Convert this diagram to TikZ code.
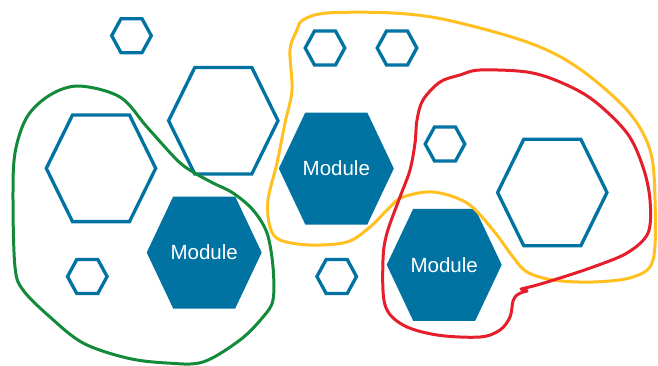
\documentclass[tikz,border=0pt]{standalone}
\usepackage{fontspec}
\setmainfont{Liberation Sans}
\definecolor{hexblue}{RGB}{1,115,162}
\definecolor{cgreen}{RGB}{18,138,58}
\definecolor{cyellow}{RGB}{255,192,32}
\definecolor{cred}{RGB}{228,30,43}
\begin{document}
\begin{tikzpicture}[x=1pt,y=-1pt,
  hexline/.style={draw=hexblue,line width=3.3pt,line join=miter},
  blob/.style={line width=3pt,line join=round,line cap=round},
  modtext/.style={text=white,font=\fontsize{20.5}{22}\selectfont,inner sep=0pt},
  hexL/.pic={\draw[hexline] (-54.7,0)--(-28.5,-53.3)--(28.5,-53.3)--(54.7,0)--(28.5,53.3)--(-28.5,53.3)--cycle;},
  hexS/.pic={\draw[hexline] (-19.8,0)--(-10.5,-17)--(10.5,-17)--(19.8,0)--(10.5,17)--(-10.5,17)--cycle;},
  hexM/.pic={\fill[hexblue] (-57.5,0)--(-31,-56)--(31,-56)--(57.5,0)--(31,56)--(-31,56)--cycle;}
]
\useasboundingbox (0,0) rectangle (658,365);
% small hexagons
\pic at (131.5,35.7) {hexS};
\pic at (325,48) {hexS};
\pic at (397,48) {hexS};
\pic at (445,144) {hexS};
\pic at (87.3,276.5) {hexS};
\pic at (336.7,276.5) {hexS};
% large outline hexagons
\pic at (223.3,120.7) {hexL};
\pic at (101,168.3) {hexL};
\pic at (552.3,192.5) {hexL};
% modules
\pic at (204.2,252.5) {hexM};
\pic at (336.3,168.5) {hexM};
\pic at (444.2,264.8) {hexM};
\node[modtext] (m1) at (204.2,252.5) {Module};
\node[modtext] (m2) at (336.3,168.5) {Module};
\node[modtext] (m3) at (444.2,264.8) {Module};
% green blob
\draw[blob,cgreen] plot[smooth cycle,tension=0.55] coordinates {
 (79,86) (120,97) (147,127) (177,160) (193,172) (213,183) (233,193) (253,210)
 (267,233) (273,267) (273,300) (263,317) (240,340) (203,362) (167,363)
 (127,358) (83,343) (50,317) (23,290) (15,267) (13,200) (15,153) (27,117) (50,95)};
% yellow blob
\draw[blob,cyellow] plot[smooth cycle,tension=0.55] coordinates {
 (303,20) (327,13) (393,13) (447,20) (527,42) (577,67) (627,110) (650,150)
 (655,200) (653,260) (633,277) (593,282) (553,280) (527,272) (513,257)
 (493,230) (467,203) (433,192) (403,197) (390,207) (370,227) (347,242)
 (310,245) (280,240) (270,227) (268,200) (277,163) (285,123) (292,90)
 (290,50) (297,30)};
% red blob
\draw[blob,cred] plot[smooth,tension=0.55] coordinates {
 (521,289) (537,285) (560,278) (593,267) (627,253) (648,233) (650,200)
 (643,167) (627,133) (593,100) (560,82) (527,72) (480,70) (460,75) (440,82)
 (423,100) (417,120) (415,143) (410,170) (400,197) (387,233) (383,260)
 (385,305) (403,325) (437,335) (480,337) (500,330) (510,317)
 (513,301) (517,295) (523,292) (527,291) (521,289)};
\end{tikzpicture}
\end{document}
